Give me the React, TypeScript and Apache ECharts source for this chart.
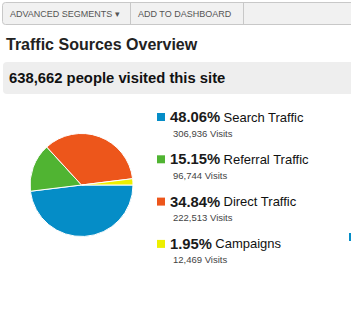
import React, { useEffect, useRef } from "react";
import * as echarts from "echarts";

const categories = ["Search Traffic", "Referral Traffic", "Direct Traffic", "Campaigns"];
const visits = [306936, 96744, 222513, 12469];
const colors = ["#058DC7", "#50B432", "#ED561B", "#EDEF00"];
const toolbarButtons = ["ADVANCED SEGMENTS \u25BE", "ADD TO DASHBOARD"];
const titleText = "Traffic Sources Overview";

const FONT = "'Liberation Sans', Arial, sans-serif";

export default function App() {
  const ref = useRef<HTMLDivElement>(null);
  useEffect(() => {
    if (!ref.current) return;
    const chart = echarts.init(ref.current, null, { renderer: "svg" });
    const total = visits.reduce((a, b) => a + b, 0);
    const fmt = (n: number) => n.toLocaleString("en-US");

    const legendEls: any[] = [];
    categories.forEach((c, i) => {
      const y = 117 + i * 42.3;
      const pct = ((visits[i] / total) * 100).toFixed(2) + "%";
      legendEls.push({
        type: "rect",
        shape: { x: 157, y: y - 4, width: 8, height: 8 },
        style: { fill: colors[i] },
        silent: true,
      });
      legendEls.push({
        type: "text",
        x: 170,
        y: y,
        style: {
          text: `{p|${pct}} {n|${c}}`,
          verticalAlign: "middle",
          rich: {
            p: { fontFamily: FONT, fontSize: 14.8, fontWeight: "bold", fill: "#1a1a1a" },
            n: { fontFamily: FONT, fontSize: 13, fontWeight: "normal", fill: "#111" },
          },
        },
        silent: true,
      });
      legendEls.push({
        type: "text",
        x: 173,
        y: y + 16,
        style: {
          text: `${fmt(visits[i])} Visits`,
          fontFamily: FONT,
          fontSize: 9.5,
          fill: "#444",
          verticalAlign: "middle",
        },
        silent: true,
      });
    });

    const btnX = [2, 130, 243];
    const toolbarEls: any[] = [
      {
        type: "rect",
        shape: { x: 2.5, y: 2.5, width: 360, height: 22, r: 3 },
        style: { fill: "#f1f1f1", stroke: "#c8c8c8", lineWidth: 1 },
        silent: true,
      },
      {
        type: "line",
        shape: { x1: 130.5, y1: 3, x2: 130.5, y2: 24 },
        style: { stroke: "#c8c8c8", lineWidth: 1 },
        silent: true,
      },
      {
        type: "line",
        shape: { x1: 243.5, y1: 3, x2: 243.5, y2: 24 },
        style: { stroke: "#c8c8c8", lineWidth: 1 },
        silent: true,
      },
      ...toolbarButtons.map((t, i) => ({
        type: "text",
        x: btnX[i] + 8,
        y: 14,
        style: {
          text: t,
          fontFamily: FONT,
          fontSize: 9,
          fill: "#555",
          verticalAlign: "middle",
        },
        silent: true,
      })),
    ];

    chart.setOption({
      animation: false,
      backgroundColor: "#fff",
      graphic: [
        ...toolbarEls,
        {
          type: "text",
          x: 6,
          y: 44,
          style: {
            text: titleText,
            fontFamily: FONT,
            fontSize: 16,
            fontWeight: "bold",
            fill: "#222",
            verticalAlign: "middle",
          },
          silent: true,
        },
        {
          type: "rect",
          shape: { x: 3, y: 62, width: 360, height: 32, r: 4 },
          style: { fill: "#eeeeee" },
          silent: true,
        },
        {
          type: "text",
          x: 9,
          y: 78,
          style: {
            text: `${fmt(total)} people visited this site`,
            fontFamily: FONT,
            fontSize: 14.8,
            fontWeight: "bold",
            fill: "#111",
            verticalAlign: "middle",
          },
          silent: true,
        },
        ...legendEls,
        {
          type: "rect",
          shape: { x: 349, y: 233, width: 2, height: 8 },
          style: { fill: "#058DC7" },
          silent: true,
        },
      ],
      series: [
        {
          type: "pie",
          center: [81.5, 185],
          radius: [0, 51.5],
          startAngle: 0,
          clockwise: true,
          label: { show: false },
          labelLine: { show: false },
          emphasis: { disabled: true },
          itemStyle: { borderColor: "#fff", borderWidth: 1 },
          data: categories.map((c, i) => ({
            name: c,
            value: visits[i],
            itemStyle: { color: colors[i] },
          })),
        },
      ],
    });
    return () => chart.dispose();
  }, []);
  return (
    <div
      ref={ref}
      style={{ position: "absolute", left: 0, top: 0, width: 351, height: 315 }}
    />
  );
}
